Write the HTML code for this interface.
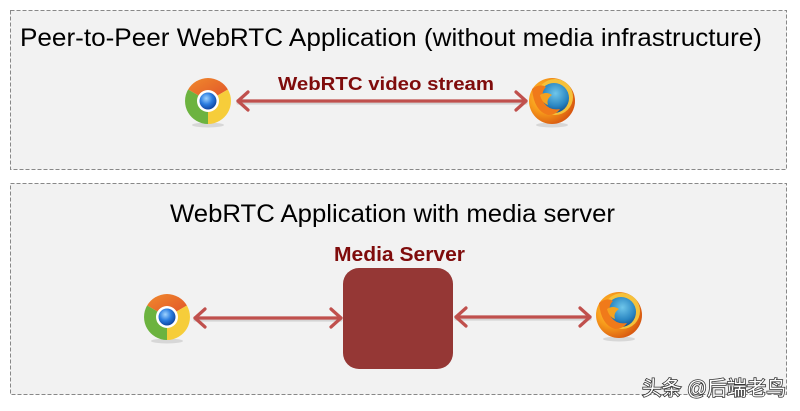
<!DOCTYPE html>
<html><head><meta charset="utf-8"><style>
html,body{margin:0;padding:0;background:#fff;}
svg{display:block;}
</style></head><body>
<svg width="800" height="411" viewBox="0 0 800 411" xmlns="http://www.w3.org/2000/svg">
<defs>
<radialGradient id="blue" cx="0.4" cy="0.35" r="0.7">
<stop offset="0" stop-color="#9fd3ff"/><stop offset="0.5" stop-color="#2b7de0"/><stop offset="1" stop-color="#0b3f9a"/>
</radialGradient>
<radialGradient id="ffblue" cx="0.55" cy="0.35" r="0.6">
<stop offset="0" stop-color="#6fc6ea"/><stop offset="0.7" stop-color="#2a86c2"/><stop offset="1" stop-color="#1a5a96"/>
</radialGradient>
<radialGradient id="fforange" cx="0.35" cy="0.4" r="0.7">
<stop offset="0" stop-color="#ffd23a"/><stop offset="0.5" stop-color="#f79a1b"/><stop offset="1" stop-color="#d4500f"/>
</radialGradient>
<linearGradient id="cred" x1="0" y1="0" x2="1" y2="1">
<stop offset="0" stop-color="#f08a2c"/><stop offset="1" stop-color="#e0502a"/>
</linearGradient>
<g id="chrome">
<ellipse cx="0" cy="24" rx="16" ry="2.5" fill="#ccc" opacity="0.7"/>
<path d="M0 0 L-19.9 -11.5 A23 23 0 0 1 19.9 -11.5 Z" fill="url(#cred)"/>
<path d="M0 0 L19.9 -11.5 A23 23 0 0 1 0 23 Z" fill="#f6cd3a"/>
<path d="M0 0 L0 23 A23 23 0 0 1 -19.9 -11.5 Z" fill="#6cb33f"/>
<circle cx="0" cy="0" r="11" fill="#fff"/>
<circle cx="0" cy="0" r="8.5" fill="url(#blue)"/>
</g>
<g id="firefox">
<ellipse cx="0" cy="24" rx="16" ry="2.5" fill="#ccc" opacity="0.7"/>
<circle cx="0" cy="0" r="23" fill="url(#fforange)"/>
<circle cx="3" cy="-4" r="18" fill="#f5c13a"/>
<circle cx="2" cy="-3" r="15" fill="url(#ffblue)"/>
<path d="M-20 -12 Q-12 -18 -6 -14 Q-12 -8 -8 2 Q-2 10 8 8 Q4 14 -4 14 Q-18 10 -20 -12 Z" fill="#f07a1a"/>
<path d="M-12 -6 Q-6 -10 0 -6 Q-6 -2 -4 4 Q-10 2 -12 -6 Z" fill="#f5a21e"/>
</g>
</defs>

<!-- top box -->
<rect x="10.5" y="10.5" width="776" height="159" fill="#f2f2f2" stroke="#888" stroke-width="1" stroke-dasharray="4,2"/>
<text x="20" y="46" font-family="Liberation Sans, sans-serif" font-size="25" fill="#000" textLength="742" lengthAdjust="spacingAndGlyphs">Peer-to-Peer WebRTC Application (without media infrastructure)</text>
<text x="278" y="90" font-family="Liberation Sans, sans-serif" font-size="18" font-weight="bold" fill="#7f0c0c" textLength="216" lengthAdjust="spacingAndGlyphs">WebRTC video stream</text>

<g stroke="#c0504d" stroke-width="3.2" fill="none" stroke-linecap="round" stroke-linejoin="round">
<line x1="238" y1="103" x2="526" y2="103" stroke="#000" opacity="0.12"/>
<line x1="238" y1="101" x2="526" y2="101"/>
<polyline points="248,92 238,101 248,110"/>
<polyline points="516,92 526,101 516,110"/>
</g>
<use href="#chrome" x="208" y="101"/>
<use href="#firefox" x="552" y="101"/>

<!-- bottom box -->
<rect x="10.5" y="183.5" width="776" height="211" fill="#f2f2f2" stroke="#888" stroke-width="1" stroke-dasharray="4,2"/>
<text x="170" y="222" font-family="Liberation Sans, sans-serif" font-size="25" fill="#000" textLength="445" lengthAdjust="spacingAndGlyphs">WebRTC Application with media server</text>
<text x="334" y="261" font-family="Liberation Sans, sans-serif" font-size="20" font-weight="bold" fill="#7f0c0c" textLength="131" lengthAdjust="spacingAndGlyphs">Media Server</text>
<rect x="343" y="268" width="110" height="101" rx="16" ry="16" fill="#953735"/>

<g stroke="#c0504d" stroke-width="3.2" fill="none" stroke-linecap="round" stroke-linejoin="round">
<line x1="195" y1="320" x2="341" y2="320" stroke="#000" opacity="0.12"/>
<line x1="195" y1="318" x2="341" y2="318"/>
<polyline points="205,309 195,318 205,327"/>
<polyline points="331,309 341,318 331,327"/>
<line x1="456" y1="319" x2="590" y2="319" stroke="#000" opacity="0.12"/>
<line x1="456" y1="317" x2="590" y2="317"/>
<polyline points="466,308 456,317 466,326"/>
<polyline points="580,308 590,317 580,326"/>
</g>
<use href="#chrome" x="167" y="317"/>
<use href="#firefox" x="619" y="315"/>

<text x="642" y="395" font-family="Liberation Sans, 'Noto Sans CJK SC', sans-serif" font-size="20" fill="#fff" stroke="#333" stroke-width="1.6" paint-order="stroke" textLength="144" lengthAdjust="spacingAndGlyphs">头条 @后端老鸟</text>
</svg>
</body></html>
